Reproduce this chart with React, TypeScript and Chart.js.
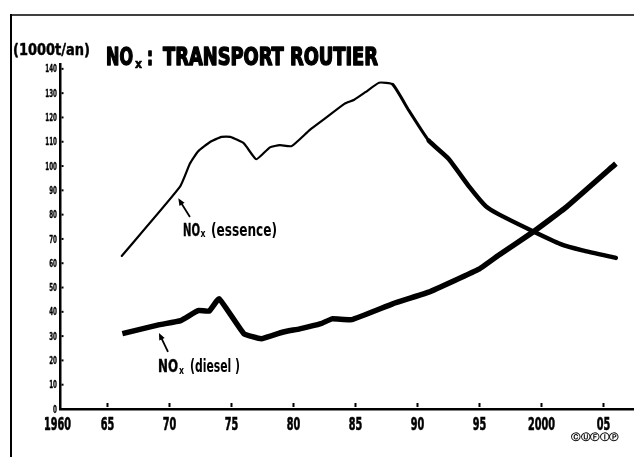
import React, { useEffect, useRef } from "react";
import { Chart, registerables } from "chart.js";

Chart.register(...registerables);

// ---- data (years, values in 1000 t/an) ----
const essenceYears = [1966.15, 1970.85, 1971.65, 1972.3, 1973.3, 1974.2, 1974.9, 1976.0, 1977.0, 1978.1, 1978.9, 1979.85, 1981.3, 1982.6, 1984.1, 1984.9, 1985.8, 1986.9, 1988.0, 1989.3, 1990.9, 1992.5, 1994.2, 1995.5, 1996.6, 1999.3, 2001.5, 2003.3, 2006.0];
const essenceValues = [63, 91.5, 101, 106, 110, 112, 112, 109.3, 102.8, 107.7, 108.6, 108.2, 114.8, 119.8, 125.6, 127.3, 130.4, 134.3, 133.6, 122.9, 110.5, 103, 91.3, 83.5, 80, 73.2, 68, 65.3, 62.2];

const dieselYears = [1966.2, 1969.2, 1970.9, 1972.3, 1973.2, 1974.0, 1976.0, 1977.4, 1979.1, 1980.5, 1982.2, 1983.1, 1984.7, 1988.0, 1990.9, 1995.0, 1996.6, 1999.3, 2002.0, 2006.0];
const dieselValues = [31, 34.7, 36.4, 40.5, 40.3, 45.4, 31, 28.9, 31.6, 33, 35.1, 37.1, 36.8, 43.3, 48.1, 57.7, 63.5, 72.8, 83.1, 101];

const yTicks = [0, 10, 20, 30, 40, 50, 60, 70, 80, 90, 100, 110, 120, 130, 140];
const xAxisStart = 1961.17; // origin of the axis, labelled "1960"
const xAxisEnd = 2007.46;
const xTickYears = [1965, 1970, 1975, 1980, 1985, 1990, 1995, 2000, 2005];
const xTickLabels = ["1960", "65", "70", "75", "80", "85", "90", "95", "2000", "05"];

const titleMain = "TRANSPORT ROUTIER";
const unitLabel = "(1000t/an)";
const essenceLabel = "(essence)";
const dieselLabel = "(diesel )";
const logoText = "ⒸⓊⒻⒾⓅ";

// annotation anchors in data units [year, value]
const essenceArrowFrom = [1971.65, 79.0];
const essenceArrowTo = [1970.71, 86.7];
const essenceLabelAt = [1971.09, 71.4];
const dieselArrowFrom = [1969.88, 23.5];
const dieselArrowTo = [1969.15, 31.3];
const dieselLabelAt = [1969.07, 15.35];

const FONT = "'Liberation Sans Narrow', 'DejaVu Sans Condensed', 'DejaVu Sans', sans-serif";

function fitText(ctx: CanvasRenderingContext2D, text: string, x: number, y: number, w: number, font: string, heavy = 0) {
  ctx.save();
  ctx.font = font;
  ctx.textAlign = "left";
  ctx.textBaseline = "alphabetic";
  const m = ctx.measureText(text).width || 1;
  ctx.translate(x, y);
  ctx.scale(w / m, 1);
  ctx.fillText(text, 0, 0);
  if (heavy > 0) {
    ctx.lineWidth = heavy;
    ctx.lineJoin = "round";
    ctx.strokeText(text, 0, 0);
  }
  ctx.restore();
}

// draw text squeezed horizontally by factor sx, aligned at x
function squeezeText(ctx: CanvasRenderingContext2D, text: string, x: number, y: number, sx: number, font: string, align: "left" | "center" | "right", heavy = 0) {
  ctx.save();
  ctx.font = font;
  ctx.textAlign = align;
  ctx.textBaseline = "alphabetic";
  ctx.translate(x, y);
  ctx.scale(sx, 1);
  ctx.fillText(text, 0, 0);
  if (heavy > 0) {
    ctx.lineWidth = heavy;
    ctx.lineJoin = "round";
    ctx.strokeText(text, 0, 0);
  }
  ctx.restore();
}

function arrow(ctx: CanvasRenderingContext2D, x0: number, y0: number, x1: number, y1: number) {
  const ang = Math.atan2(y1 - y0, x1 - x0);
  const L = 7, H = 3;
  ctx.lineWidth = 1.8;
  ctx.beginPath();
  ctx.moveTo(x0, y0);
  ctx.lineTo(x1 - Math.cos(ang) * 4, y1 - Math.sin(ang) * 4);
  ctx.stroke();
  ctx.beginPath();
  ctx.moveTo(x1, y1);
  ctx.lineTo(x1 - L * Math.cos(ang) + H * Math.sin(ang), y1 - L * Math.sin(ang) - H * Math.cos(ang));
  ctx.lineTo(x1 - L * Math.cos(ang) - H * Math.sin(ang), y1 - L * Math.sin(ang) + H * Math.cos(ang));
  ctx.closePath();
  ctx.fill();
}

const decor = {
  id: "decor",
  afterDraw(chart: any) {
    const ctx: CanvasRenderingContext2D = chart.ctx;
    const xs = chart.scales.x;
    const ys = chart.scales.y;
    const px = (v: number) => xs.getPixelForValue(v);
    const py = (v: number) => ys.getPixelForValue(v);
    ctx.save();
    ctx.fillStyle = "#000";
    ctx.strokeStyle = "#000";

    // frame
    ctx.lineWidth = 1.6;
    ctx.beginPath();
    ctx.moveTo(10, 15);
    ctx.lineTo(634, 15);
    ctx.stroke();
    ctx.lineWidth = 2;
    ctx.beginPath();
    ctx.moveTo(11, 14);
    ctx.lineTo(11, 457);
    ctx.stroke();

    // small tick marks inside the axes
    const ax = xs.left;
    const ay = ys.bottom;
    yTicks.forEach((v) => {
      if (v === 0) return;
      ctx.fillRect(ax + 1.5, py(v) - 1, 2, 2);
    });
    xTickYears.forEach((v) => {
      ctx.fillRect(px(v) - 1, ay - 6, 2, 4);
    });

    // tick labels (condensed), placed with the scales' own ticks
    xs.ticks.forEach((t: any, i: number) => {
      const x = px(t.value) - (i === 0 ? 2.5 : 0);
      squeezeText(ctx, xTickLabels[i], x, 429.5, 0.6, `bold 18px ${FONT}`, "center", 0.6);
    });
    ys.ticks.forEach((t: any) => {
      squeezeText(ctx, String(t.value), ax - 3, py(t.value) + 3.6, 0.62, `bold 10px ${FONT}`, "right", 0.3);
    });

    // title
    fitText(ctx, "NO", 106, 65, 27, `bold 24px ${FONT}`, 1.4);
    fitText(ctx, "x", 135, 67.5, 7, `bold 13px ${FONT}`, 0.6);
    fitText(ctx, ":", 147, 65, 6, `bold 24px ${FONT}`, 1.4);
    fitText(ctx, titleMain, 163, 65, 215, `bold 24px ${FONT}`, 1.4);

    // unit
    fitText(ctx, unitLabel, 13, 55, 77, `bold 15px ${FONT}`, 0.4);

    // essence annotation
    arrow(ctx, px(essenceArrowFrom[0]), py(essenceArrowFrom[1]), px(essenceArrowTo[0]), py(essenceArrowTo[1]));
    {
      const lx = px(essenceLabelAt[0]);
      const ly = py(essenceLabelAt[1]);
      fitText(ctx, "NO", lx, ly, 17, `bold 18px ${FONT}`, 0.4);
      fitText(ctx, "x", lx + 17.5, ly + 1, 5, `bold 10px ${FONT}`);
      fitText(ctx, essenceLabel, lx + 28, ly, 66, `bold 17px ${FONT}`);
    }
    // diesel annotation
    arrow(ctx, px(dieselArrowFrom[0]), py(dieselArrowFrom[1]), px(dieselArrowTo[0]), py(dieselArrowTo[1]));
    {
      const lx = px(dieselLabelAt[0]);
      const ly = py(dieselLabelAt[1]);
      fitText(ctx, "NO", lx, ly, 20, `bold 18px ${FONT}`, 0.4);
      fitText(ctx, "x", lx + 21, ly + 2, 5, `bold 10px ${FONT}`);
      fitText(ctx, dieselLabel, lx + 32, ly, 50, `bold 17px ${FONT}`);
    }

    // logo
    fitText(ctx, logoText, 571, 440, 48, "bold 9px 'DejaVu Sans', sans-serif");
    ctx.restore();
  },
};

export default function App() {
  const ref = useRef<HTMLCanvasElement | null>(null);
  useEffect(() => {
    document.body.style.margin = "0";
    const canvas = ref.current;
    if (!canvas) return;
    const essencePts = essenceYears.map((x, i) => ({ x, y: essenceValues[i] }));
    const dieselPts = dieselYears.map((x, i) => ({ x, y: dieselValues[i] }));
    const chart = new Chart(canvas, {
      type: "line",
      data: {
        datasets: [
          {
            label: "NOx (essence)",
            data: essencePts,
            borderColor: "#000",
            borderWidth: 2.2,
            pointRadius: 0,
            tension: 0.15,
            borderJoinStyle: "round",
            borderCapStyle: "round",
            fill: false,
            segment: {
              borderWidth: (c: any) => {
                const x0 = c.p0.parsed.x;
                if (x0 < 1987.5) return 2.2;
                if (x0 < 1990) return 3;
                return 4.5;
              },
            },
          },
          {
            label: "NOx (diesel)",
            data: dieselPts,
            borderColor: "#000",
            borderWidth: 5.5,
            pointRadius: 0,
            tension: 0.1,
            borderJoinStyle: "round",
            borderCapStyle: "butt",
            fill: false,
          },
        ],
      },
      options: {
        responsive: false,
        animation: false,
        devicePixelRatio: 1,
        layout: { padding: { top: 64, right: 0, left: 0, bottom: 0 } },
        plugins: { legend: { display: false }, tooltip: { enabled: false }, title: { display: false } },
        scales: {
          x: {
            type: "linear",
            min: xAxisStart,
            max: xAxisEnd,
            afterBuildTicks: (s: any) => {
              s.ticks = [xAxisStart, ...xTickYears].map((v) => ({ value: v }));
            },
            afterFit: (s: any) => {
              s.height = 48;
            },
            grid: { display: false, drawTicks: false },
            border: { display: true, color: "#000", width: 2.5 },
            ticks: { display: false, autoSkip: false, maxRotation: 0 },
          },
          y: {
            type: "linear",
            min: 0,
            max: 142,
            afterBuildTicks: (s: any) => {
              s.ticks = yTicks.map((v) => ({ value: v }));
            },
            afterFit: (s: any) => {
              s.width = 60;
            },
            grid: { display: false, drawTicks: false },
            border: { display: true, color: "#000", width: 2.5 },
            ticks: { display: false },
          },
        },
      },
      plugins: [decor],
    } as any);
    return () => chart.destroy();
  }, []);
  return (
    <div style={{ width: 634, height: 457, background: "#fff" }}>
      <canvas ref={ref} width={634} height={457} style={{ display: "block" }} />
    </div>
  );
}
